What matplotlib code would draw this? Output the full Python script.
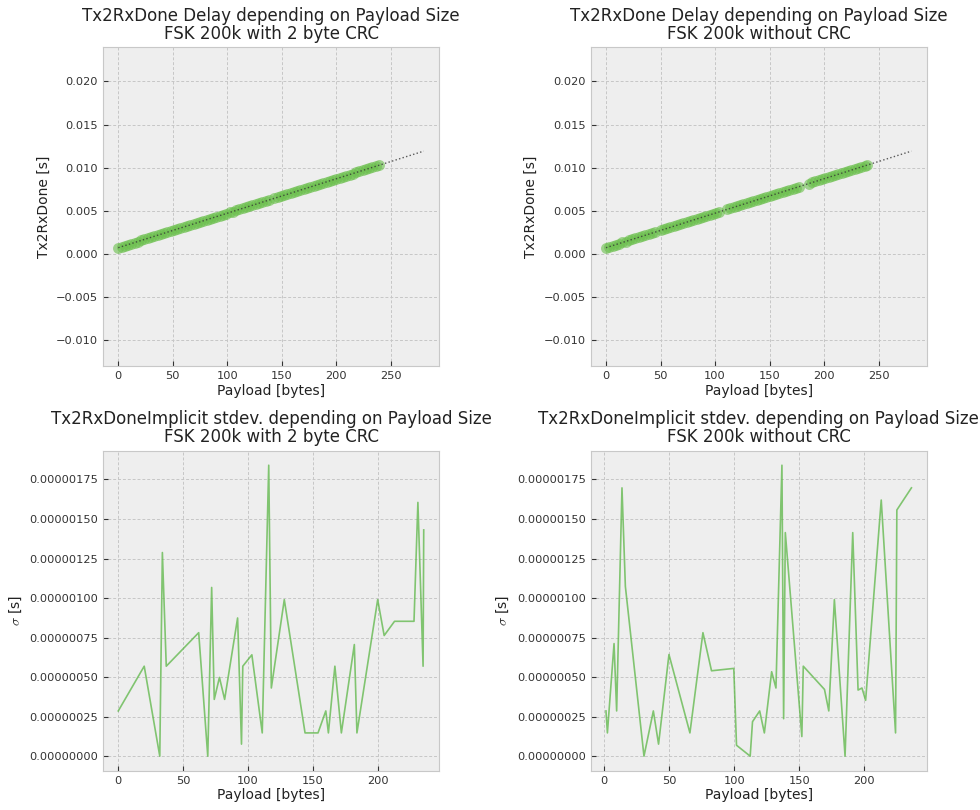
import numpy as np
import matplotlib
matplotlib.use("Agg")
import matplotlib.pyplot as plt

plt.style.use("bmh")
plt.rcParams.update({
    "grid.color": "#c6c6c6",
    "grid.linestyle": (0, (3, 2)),
    "grid.linewidth": 0.7,
    "axes.edgecolor": "#c8c8c8",
    "text.color": "#222222",
    "axes.labelcolor": "#222222",
    "xtick.color": "#333333",
    "ytick.color": "#333333",
})

# --- Tx2RxDone delay measurements (payload in bytes, delay in ms) ---
payload_crc = [0, 3, 6, 9, 12, 15, 18, 21, 24, 27, 30, 33, 36, 39, 42, 45, 48, 51, 54, 57,
               60, 63, 66, 69, 72, 75, 78, 81, 84, 87, 90, 93, 96, 99, 102, 105, 108, 111,
               114, 117, 120, 123, 126, 129, 132, 135, 138, 143, 146, 149, 152, 155, 158,
               161, 164, 167, 170, 173, 176, 179, 182, 185, 188, 191, 194, 197, 200, 203,
               206, 209, 212, 215, 218, 221, 224, 227, 230, 233, 236, 239]
delay_crc_ms = [0.72, 0.85, 0.96, 1.09, 1.20, 1.31, 1.44, 1.57, 1.68, 1.80, 1.93, 2.04, 2.16,
                2.29, 2.40, 2.52, 2.65, 2.76, 2.88, 3.01, 3.12, 3.24, 3.37, 3.48, 3.60, 3.73,
                3.84, 3.96, 4.09, 4.20, 4.32, 4.45, 4.56, 4.68, 4.81, 4.92, 5.04, 5.17, 5.28,
                5.40, 5.53, 5.64, 5.76, 5.89, 6.00, 6.12, 6.25, 6.44, 6.57, 6.68, 6.80, 6.93,
                7.04, 7.16, 7.29, 7.40, 7.52, 7.65, 7.76, 7.88, 8.01, 8.12, 8.24, 8.37, 8.48,
                8.58, 8.73, 8.84, 8.96, 9.09, 9.20, 9.32, 9.45, 9.56, 9.68, 9.81, 9.92, 10.04,
                10.17, 10.28]

payload_nocrc = [0, 3, 6, 9, 12, 15, 18, 21, 24, 27, 30, 33, 36, 39, 42, 45,
                 50, 53, 56, 59, 62, 65, 68, 71, 74, 77, 80, 83, 86, 89, 92, 95, 98, 101, 104,
                 111, 114, 117, 120, 123, 126, 129, 132, 135, 138, 141, 144, 147, 150, 153,
                 156, 159, 162, 165, 168, 171, 174, 177,
                 186, 189, 192, 195, 198, 201, 204, 207, 210, 213, 216, 219, 222, 225, 228,
                 231, 234, 237, 239]
delay_nocrc_ms = [0.72, 0.84, 0.97, 1.08, 1.20, 1.33, 1.44, 1.56, 1.69, 1.80, 1.92, 2.05,
                  2.16, 2.28, 2.41, 2.52,
                  2.72, 2.85, 2.96, 3.08, 3.21, 3.32, 3.44, 3.57, 3.68, 3.80, 3.93, 4.04,
                  4.16, 4.29, 4.40, 4.52, 4.65, 4.76, 4.88,
                  5.16, 5.29, 5.40, 5.52, 5.65, 5.76, 5.88, 6.01, 6.12, 6.24, 6.37, 6.48,
                  6.60, 6.73, 6.84, 6.96, 7.09, 7.20, 7.32, 7.45, 7.56, 7.68, 7.81,
                  8.16, 8.29, 8.40, 8.52, 8.65, 8.76, 8.88, 9.01, 9.12, 9.24, 9.37, 9.48,
                  9.60, 9.73, 9.84, 9.96, 10.09, 10.20, 10.28]

# --- Tx2RxDoneImplicit standard deviation per payload size (in microseconds) ---
sd_payload_crc = [0, 20, 32, 34, 37, 62, 69, 72, 74, 78, 82, 92, 95, 96, 103, 111, 116,
                  118, 128, 144, 154, 160, 162, 167, 172, 182, 184, 200, 205, 213, 228,
                  231, 235, 235.5]
sd_crc_us = [0.286, 0.569, 0.0, 1.288, 0.569, 0.781, 0.0, 1.067, 0.359, 0.498, 0.359,
             0.874, 0.076, 0.569, 0.641, 0.147, 1.840, 0.431, 0.990, 0.147, 0.147, 0.286,
             0.147, 0.569, 0.147, 0.706, 0.147, 0.990, 0.763, 0.853, 0.853, 1.605, 0.569,
             1.431]

sd_payload_nocrc = [1.5, 2.6, 7.7, 9.7, 13.8, 16.4, 30.7, 37.9, 41.9, 49.9, 66, 76, 82.6,
                    99.7, 101.8, 112.3, 114.1, 119.6, 123.2, 128.8, 132.1, 136.7, 138,
                    139.3, 152, 153.1, 169.4, 172.7, 177, 185.2, 191.1, 195.2, 198.2, 201,
                    213, 224, 225, 236.2]
sd_nocrc_us = [0.286, 0.147, 0.712, 0.286, 1.697, 1.074, 0.0, 0.286, 0.076, 0.643, 0.147,
               0.781, 0.540, 0.555, 0.069, 0.0, 0.218, 0.286, 0.147, 0.534, 0.431, 1.840,
               0.237, 1.414, 0.124, 0.569, 0.422, 0.286, 0.990, 0.0, 1.414, 0.418, 0.431,
               0.353, 1.620, 0.147, 1.557, 1.697]

subtitles = ["FSK 200k with 2 byte CRC", "FSK 200k without CRC"]
delay_title = "Tx2RxDone Delay depending on Payload Size"
sd_title = "Tx2RxDoneImplicit stdev. depending on Payload Size"

point_color = "#6abf4b"
line_color = "#5cb646"

fig = plt.figure(figsize=(9.8, 8.1), dpi=100)
fig.patch.set_facecolor("white")

col_left = [103 / 980, 590.7 / 980]
col_w = 336 / 980
top_b, top_h = 1 - 366 / 810, 319 / 810
bot_b, bot_h = 1 - 770.7 / 810, 320 / 810

delay_sets = [(payload_crc, delay_crc_ms), (payload_nocrc, delay_nocrc_ms)]
sd_sets = [(sd_payload_crc, sd_crc_us), (sd_payload_nocrc, sd_nocrc_us)]

for i in range(2):
    # delay vs payload with linear fit
    ax = fig.add_axes([col_left[i], top_b, col_w, top_h])
    x = np.array(delay_sets[i][0], dtype=float)
    y = np.array(delay_sets[i][1]) * 1e-3
    ax.scatter(x, y, s=62, color=point_color, alpha=0.6, linewidths=0, zorder=2)
    coef = np.polyfit(x, y, 1)
    xfit = np.array([0.0, 280.0])
    ax.plot(xfit, np.polyval(coef, xfit), linestyle=":", color="#333333",
            linewidth=1.0, alpha=0.8, zorder=3)
    ax.set_xlim(-14, 294)
    ax.set_ylim(-0.013, 0.024)
    ax.set_xticks([0, 50, 100, 150, 200, 250])
    ax.set_title(delay_title + "\n" + subtitles[i], fontsize=12, linespacing=1.0)
    ax.set_xlabel("Payload [bytes]", fontsize=10, labelpad=2)
    ax.set_ylabel("Tx2RxDone [s]", fontsize=10)
    ax.tick_params(labelsize=8.2)

    # standard deviation vs payload
    ax2 = fig.add_axes([col_left[i], bot_b, col_w, bot_h])
    xs = np.array(sd_sets[i][0], dtype=float)
    ys = np.array(sd_sets[i][1]) * 1e-6
    ax2.plot(xs, ys, color=line_color, linewidth=1.2, alpha=0.75)
    ax2.set_xticks([0, 50, 100, 150, 200])
    ax2.set_yticks(np.arange(0, 1.76e-6, 0.25e-6))
    ax2.ticklabel_format(axis="y", style="plain", useOffset=False)
    ax2.set_title(sd_title + "\n" + subtitles[i], fontsize=12, linespacing=1.0)
    ax2.set_xlabel("Payload [bytes]", fontsize=10, labelpad=2)
    ax2.set_ylabel(r"$\sigma$ [s]", fontsize=10)
    ax2.tick_params(labelsize=8.2)

fig.savefig("out.png", dpi=100, facecolor="white")
